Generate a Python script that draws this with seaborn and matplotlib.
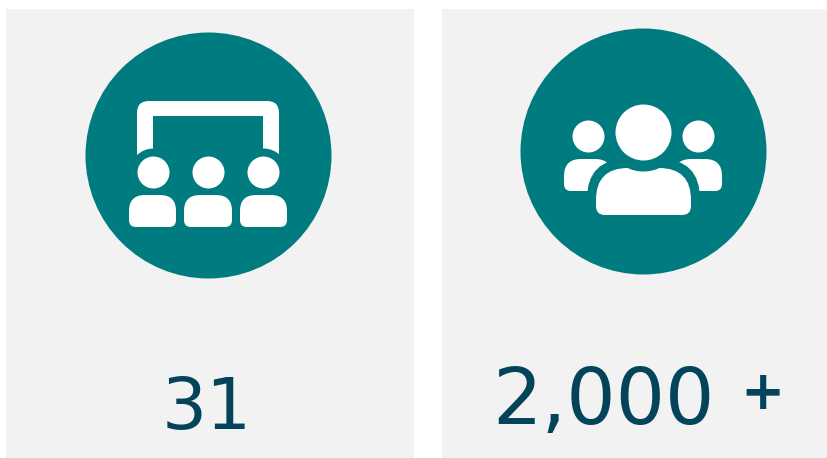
import matplotlib.pyplot as plt
from matplotlib.patches import PathPatch, Rectangle
from matplotlib.path import Path
import pandas as pd
import seaborn as sns

# the numbers shown on the cards, the plus sits apart from the 2,000
value_labels = ["31", "2,000", "+"]
value_x = [207, 603, 763]
value_y = [429, 424, 409]
value_size = [51, 56, 38]
value_weight = ["normal", "normal", "bold"]

card_left = [6, 442]
card_right = [414, 828]
disc_x = [208, 643]
disc_y = [155, 151]

TEAL = "#007c80"
CARD = "#f2f2f2"
INK = "#04445a"

sns.set_theme(style="white")
plt.rcParams["font.family"] = ["DejaVu Sans"]

fig = plt.figure(figsize=(8.28, 4.58), dpi=100)
ax = fig.add_axes([0, 0, 1, 1])


def disc(xs, ys, r, color, z):
    # marker size is in points^2, r in pixels
    d = pd.DataFrame({"x": xs, "y": ys})
    sns.scatterplot(data=d, x="x", y="y", s=(2 * r * 0.72) ** 2, color=color,
                    linewidth=0, legend=False, ax=ax, zorder=z)


def round_box(x0, y0, x1, y1, rt, rb, color, z):
    verts = [(x0 + rt, y0), (x1 - rt, y0), (x1, y0), (x1, y0 + rt),
             (x1, y1 - rb), (x1, y1), (x1 - rb, y1),
             (x0 + rb, y1), (x0, y1), (x0, y1 - rb),
             (x0, y0 + rt), (x0, y0), (x0 + rt, y0), (x0 + rt, y0)]
    codes = [Path.MOVETO, Path.LINETO, Path.CURVE3, Path.CURVE3,
             Path.LINETO, Path.CURVE3, Path.CURVE3,
             Path.LINETO, Path.CURVE3, Path.CURVE3,
             Path.LINETO, Path.CURVE3, Path.CURVE3, Path.CLOSEPOLY]
    ax.add_patch(PathPatch(Path(verts, codes), facecolor=color, edgecolor="none", zorder=z))


for l, r in zip(card_left, card_right):
    ax.add_patch(Rectangle((l, 9), r - l, 449, facecolor=CARD, edgecolor="none", zorder=1))

disc(disc_x, disc_y, 123, TEAL, 2)

# classroom icon
round_box(137, 101, 279, 160, 12, 0, "white", 3)
ax.add_patch(Rectangle((153, 116), 110, 50, facecolor=TEAL, edgecolor="none", zorder=4))
disc([153, 263], [172, 172], 24, TEAL, 5)
disc([153, 208, 263], [172, 172, 172], 16, "white", 6)
for x0, x1 in [(129, 176), (184, 232), (240, 287)]:
    round_box(x0, 195, x1, 227, 16, 7, "white", 6)

# people icon
round_box(564, 159, 612, 191, 17, 7, "white", 3)
round_box(674, 159, 722, 191, 17, 7, "white", 3)
round_box(587, 159, 700, 225, 40, 12, TEAL, 4)
round_box(596, 168, 691, 215, 32, 9, "white", 5)
disc([643], [132], 39, TEAL, 6)
disc([643], [132], 28, "white", 7)
disc([588, 698], [136, 136], 16, "white", 7)

for lab, x, y, fs, w in zip(value_labels, value_x, value_y, value_size, value_weight):
    ax.text(x, y, lab, ha="center", va="baseline", fontsize=fs, fontweight=w, color=INK, zorder=8)

ax.set_xlim(0, 828)
ax.set_ylim(458, 0)
ax.set_axis_off()
fig.savefig("out.png", dpi=100, facecolor="white")
